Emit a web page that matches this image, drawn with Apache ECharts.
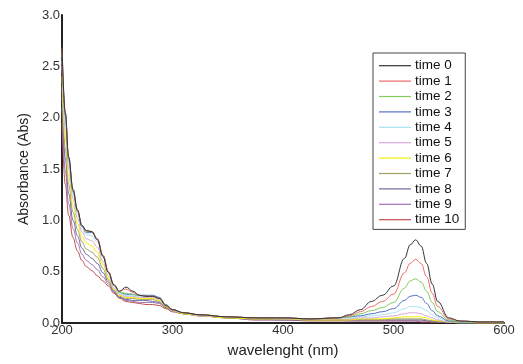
<!DOCTYPE html>
<html>
<head>
<meta charset="utf-8">
<script src="https://cdn.jsdelivr.net/npm/echarts@6/dist/echarts.min.js"></script>
<style>html,body{margin:0;padding:0;background:#fff}#c{width:523px;height:364px}</style>
</head>
<body>
<div id="c"></div>
<script>
const wavelengths = [200,203,206,210,214,218,222,227,232,237,242,247,252,258,264,270,276,282,288,294,300,310,325,350,375,400,425,450,460,470,480,490,500,510,515,520,525,530,535,540,550,560,580,600];
const seriesNames = ['time 0','time 1','time 2','time 3','time 4','time 5','time 6','time 7','time 8','time 9','time 10'];
const time0 = [2.70,2.05,1.62,1.30,1.10,0.95,0.90,0.89,0.81,0.65,0.49,0.37,0.31,0.35,0.31,0.27,0.26,0.26,0.24,0.17,0.13,0.10,0.08,0.06,0.05,0.05,0.04,0.05,0.08,0.13,0.21,0.27,0.36,0.63,0.76,0.81,0.75,0.58,0.38,0.21,0.05,0.02,0.01,0.01];
const time1 = [2.68,2.04,1.61,1.30,1.10,0.95,0.90,0.89,0.82,0.66,0.50,0.37,0.31,0.33,0.30,0.27,0.26,0.26,0.24,0.17,0.13,0.10,0.08,0.06,0.05,0.05,0.04,0.05,0.07,0.11,0.16,0.21,0.28,0.49,0.58,0.62,0.58,0.45,0.29,0.16,0.04,0.02,0.01,0.01];
const time2 = [2.65,2.03,1.60,1.29,1.09,0.95,0.89,0.89,0.82,0.66,0.50,0.37,0.30,0.29,0.28,0.27,0.26,0.26,0.24,0.17,0.13,0.10,0.08,0.06,0.05,0.05,0.04,0.05,0.06,0.09,0.12,0.15,0.20,0.34,0.41,0.43,0.40,0.31,0.20,0.11,0.03,0.01,0.01,0.01];
const time3 = [2.62,2.02,1.59,1.28,1.09,0.94,0.88,0.88,0.82,0.66,0.50,0.37,0.30,0.28,0.28,0.27,0.27,0.27,0.25,0.18,0.13,0.10,0.08,0.06,0.05,0.05,0.04,0.05,0.06,0.07,0.09,0.11,0.14,0.22,0.26,0.27,0.25,0.19,0.12,0.07,0.02,0.01,0.01,0.01];
const time4 = [2.55,1.95,1.55,1.25,1.06,0.92,0.86,0.85,0.79,0.64,0.49,0.36,0.29,0.27,0.27,0.26,0.26,0.26,0.24,0.17,0.13,0.10,0.08,0.06,0.05,0.05,0.04,0.05,0.05,0.06,0.07,0.08,0.10,0.14,0.16,0.16,0.15,0.12,0.08,0.05,0.02,0.01,0.01,0.01];
const time5 = [2.50,1.88,1.50,1.21,1.02,0.89,0.82,0.80,0.74,0.60,0.46,0.34,0.28,0.26,0.26,0.25,0.25,0.25,0.23,0.17,0.12,0.10,0.07,0.06,0.05,0.04,0.04,0.04,0.04,0.05,0.05,0.06,0.07,0.09,0.10,0.10,0.09,0.07,0.05,0.03,0.01,0.01,0.01,0.01];
const time6 = [2.40,1.80,1.43,1.15,0.97,0.84,0.78,0.75,0.69,0.57,0.44,0.33,0.27,0.25,0.25,0.24,0.24,0.24,0.22,0.16,0.12,0.09,0.07,0.05,0.04,0.04,0.03,0.03,0.03,0.04,0.04,0.04,0.05,0.06,0.06,0.06,0.06,0.05,0.03,0.02,0.01,0.01,0.00,0.00];
const time7 = [2.30,1.70,1.35,1.08,0.91,0.79,0.72,0.69,0.64,0.53,0.42,0.32,0.26,0.24,0.24,0.23,0.23,0.23,0.21,0.16,0.12,0.09,0.07,0.05,0.04,0.04,0.03,0.03,0.03,0.03,0.03,0.03,0.04,0.04,0.04,0.04,0.04,0.03,0.02,0.02,0.01,0.00,0.00,0.00];
const time8 = [2.20,1.60,1.26,1.00,0.85,0.73,0.67,0.63,0.58,0.49,0.40,0.31,0.25,0.23,0.22,0.22,0.22,0.21,0.20,0.15,0.12,0.09,0.07,0.05,0.04,0.03,0.03,0.03,0.03,0.03,0.03,0.03,0.03,0.03,0.03,0.03,0.03,0.02,0.02,0.01,0.01,0.00,0.00,0.00];
const time9 = [2.10,1.48,1.16,0.92,0.78,0.67,0.61,0.57,0.52,0.45,0.38,0.30,0.25,0.22,0.21,0.20,0.20,0.20,0.19,0.15,0.11,0.09,0.07,0.05,0.03,0.03,0.03,0.03,0.02,0.02,0.02,0.02,0.02,0.02,0.02,0.02,0.02,0.02,0.01,0.01,0.01,0.00,0.00,0.00];
const time10 = [1.95,1.35,1.05,0.83,0.70,0.61,0.55,0.51,0.46,0.41,0.36,0.29,0.24,0.21,0.20,0.19,0.18,0.18,0.17,0.14,0.11,0.09,0.07,0.05,0.03,0.03,0.02,0.02,0.02,0.02,0.02,0.02,0.02,0.02,0.02,0.02,0.01,0.01,0.01,0.01,0.01,0.00,0.00,0.00];
const xTicks = [200,300,400,500,600];
const yTicks = [0,0.5,1,1.5,2,2.5,3];

const allValues = [time0,time1,time2,time3,time4,time5,time6,time7,time8,time9,time10];
const colors = ['#333333','#f06a6a','#80cc5c','#5070c0','#a8e2f2','#d8a8d8','#f0f000','#a0a060','#6a6a98','#a072b8','#c0504d'];

const chart = echarts.init(document.getElementById('c'));
const font = 'Liberation Sans, Arial, sans-serif';
const series = seriesNames.map((name, i) => ({
  name: name,
  type: 'line',
  data: wavelengths.map((w, j) => [w, allValues[i][j]]),
  symbol: 'none',
  smooth: 0.4,
  smoothMonotone: 'x',
  lineStyle: { width: 1, color: colors[i] },
  itemStyle: { color: colors[i] },
  z: 20 - i
})).reverse();

chart.setOption({
  animation: false,
  backgroundColor: '#ffffff',
  grid: { left: 62, right: 19, top: 15, bottom: 41, containLabel: false },
  xAxis: {
    type: 'value', min: xTicks[0], max: xTicks[xTicks.length - 1], interval: 100,
    axisLine: { show: true, lineStyle: { color: '#222', width: 2 } },
    axisTick: { show: false },
    splitLine: { show: false },
    axisLabel: { color: '#333', fontFamily: font, fontSize: 13, margin: 1 },
    name: 'wavelenght (nm)', nameLocation: 'middle', nameGap: 20,
    nameTextStyle: { color: '#222', fontFamily: font, fontSize: 15 }
  },
  yAxis: {
    type: 'value', min: yTicks[0], max: yTicks[yTicks.length - 1], interval: 0.5,
    axisLine: { show: true, lineStyle: { color: '#222', width: 2 } },
    axisTick: { show: false },
    splitLine: { show: false },
    axisLabel: { color: '#333', fontFamily: font, fontSize: 13, margin: 2, formatter: v => v.toFixed(1) },
    name: 'Absorbance (Abs)', nameLocation: 'middle', nameGap: 25,
    nameTextStyle: { color: '#222', fontFamily: font, fontSize: 14 }
  },
  legend: {
    data: seriesNames,
    orient: 'vertical',
    left: 373, top: 53,
    width: 89,
    padding: [5, 6, 2, 6],
    borderColor: '#444', borderWidth: 1,
    backgroundColor: '#fff',
    icon: 'rect',
    itemWidth: 32, itemHeight: 1.2, itemGap: 0,
    textStyle: { color: '#111', fontFamily: font, fontSize: 13.5, lineHeight: 15.4, padding: [0,0,0,-1] }
  },
  series: series
});
</script>
</body>
</html>
